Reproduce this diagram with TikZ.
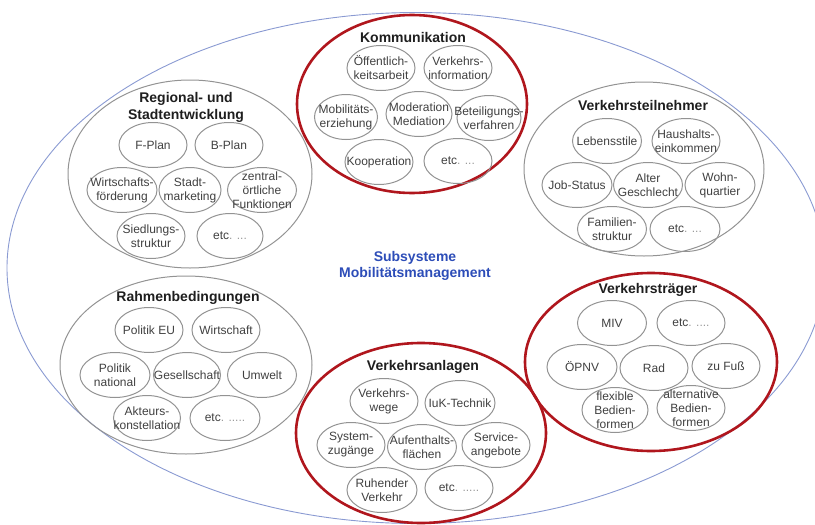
\documentclass[tikz,border=0pt]{standalone}
\usepackage{fontspec}
\setmainfont{Liberation Sans}
\usetikzlibrary{shapes.geometric}
\definecolor{redline}{HTML}{B0161D}
\definecolor{grayline}{HTML}{939393}
\definecolor{blueline}{HTML}{8A9AD2}
\definecolor{subtext}{HTML}{404040}
\definecolor{titletext}{HTML}{1E1E1E}
\definecolor{centerblue}{HTML}{2D4DB8}
\definecolor{dotgray}{HTML}{9A9A9A}
\newcommand\subell[5][68]{%
  \node[subshape, minimum width=#1pt] (#2) at (#3,#4) {};
  \node[subtxt] (#2t) at (#2.center) {#5};}
\newcommand\etcd[1]{etc{\color{dotgray}. #1}}
\begin{document}
\begin{tikzpicture}[x=1pt,y=-1pt,
  subshape/.style={ellipse, draw=grayline, line width=1pt, minimum height=45pt, inner sep=0pt},
  subtxt/.style={font=\fontsize{12}{14}\selectfont, text=subtext, align=center, inner sep=0pt},
  graygroup/.style={ellipse, draw=grayline, line width=1pt, inner sep=0pt},
  redgroup/.style={ellipse, draw=redline, line width=2.6pt, inner sep=0pt},
  grouptitle/.style={font=\fontsize{14}{17}\selectfont\bfseries, text=titletext, align=center, inner sep=0pt}]
\useasboundingbox (0,0) rectangle (815,525);
\clip (0,0) rectangle (815,525);
% outer ellipse
\node[ellipse, draw=blueline, line width=0.9pt, minimum width=818pt, minimum height=511pt, inner sep=0pt] (outer) at (416,268) {};
\node[font=\fontsize{14}{15.5}\selectfont\bfseries, text=centerblue, align=center, inner sep=0pt] (center) at (415,266) {Subsysteme\\Mobilitätsmanagement};

% Kommunikation
\node[redgroup, minimum width=230pt, minimum height=178pt] (komm) at (412,104) {};
\node[grouptitle] (kommt) at (413,37) {Kommunikation};
\subell{oeff}{381}{68}{Öffentlich-\\keitsarbeit}
\subell{vinf}{458}{68}{Verkehrs-\\information}
\subell[63]{mob}{346}{117}{Mobilitäts-\\erziehung}
\subell[66]{mod}{419}{114}{Moderation\\Mediation}
\subell[64]{bet}{489}{118}{Beteiligungs-\\verfahren}
\subell{koop}{379}{162}{Kooperation}
\subell{ketc}{458}{161}{\etcd{...}}

% Regional- und Stadtentwicklung
\node[graygroup, minimum width=244pt, minimum height=188pt] (reg) at (190,174) {};
\node[grouptitle] (regt) at (186,107) {Regional- und\\Stadtentwicklung};
\subell{fplan}{153}{145}{F-Plan}
\subell{bplan}{229}{145}{B-Plan}
\subell[70]{wirt}{122}{190}{Wirtschafts-\\förderung}
\subell[62]{smark}{190}{190}{Stadt-\\marketing}
\subell[69]{zent}{262}{190}{zentral-\\örtliche\\Funktionen}
\subell{sied}{151}{236}{Siedlungs-\\struktur}
\subell[66]{retc}{230}{236}{\etcd{...}}

% Verkehrsteilnehmer
\node[graygroup, minimum width=240pt, minimum height=174pt] (vtn) at (644,169) {};
\node[grouptitle] (vtnt) at (643,105) {Verkehrsteilnehmer};
\subell[69]{leb}{607}{141}{Lebensstile}
\subell{haus}{686}{141}{Haushalts-\\einkommen}
\subell[70]{job}{577}{185}{Job-Status}
\subell[69]{alter}{648}{185}{Alter\\Geschlecht}
\subell[70]{wohn}{720}{185}{Wohn-\\quartier}
\subell[69]{fam}{612}{229}{Familien-\\struktur}
\subell[70]{vetc}{685}{229}{\etcd{...}}

% Rahmenbedingungen
\node[graygroup, minimum width=252pt, minimum height=178pt] (rahm) at (186,365) {};
\node[grouptitle] (rahmt) at (188,298) {Rahmenbedingungen};
\subell{peu}{149}{330}{Politik EU}
\subell{wirtsch}{226}{330}{Wirtschaft}
\subell[70]{pnat}{115}{375}{Politik\\national}
\subell[67]{ges}{187}{375}{Gesellschaft}
\subell[69]{umw}{262}{375}{Umwelt}
\subell[67]{akt}{147}{418}{Akteurs-\\konstellation}
\subell[70]{raetc}{225}{418}{\etcd{.....}}

% Verkehrsanlagen
\node[redgroup, minimum width=250pt, minimum height=180pt] (vanl) at (421,433) {};
\node[grouptitle] (vanlt) at (423,367) {Verkehrsanlagen};
\subell{vweg}{384}{401}{Verkehrs-\\wege}
\subell[70]{iuk}{460}{403}{IuK-Technik}
\subell{sysz}{351}{445}{System-\\zugänge}
\subell[69]{aufe}{422}{447}{Aufenthalts-\\flächen}
\subell{serv}{496}{445}{Service-\\angebote}
\subell[70]{ruh}{382}{490}{Ruhender\\Verkehr}
\subell{aetc}{459}{488}{\etcd{.....}}

% Verkehrstraeger
\node[redgroup, minimum width=252pt, minimum height=178pt] (vtr) at (651,362) {};
\node[grouptitle] (vtrt) at (648,290) {Verkehrsträger};
\subell[69]{miv}{612}{323}{MIV}
\subell{tetc}{691}{323}{\etcd{....}}
\subell[70]{oepnv}{582}{367}{ÖPNV}
\subell{rad}{654}{368}{Rad}
\subell{fuss}{726}{366}{zu Fuß}
\subell[66]{flex}{615}{410}{flexible\\Bedien-\\formen}
\subell{alt}{691}{408}{alternative\\Bedien-\\formen}
\end{tikzpicture}
\end{document}
